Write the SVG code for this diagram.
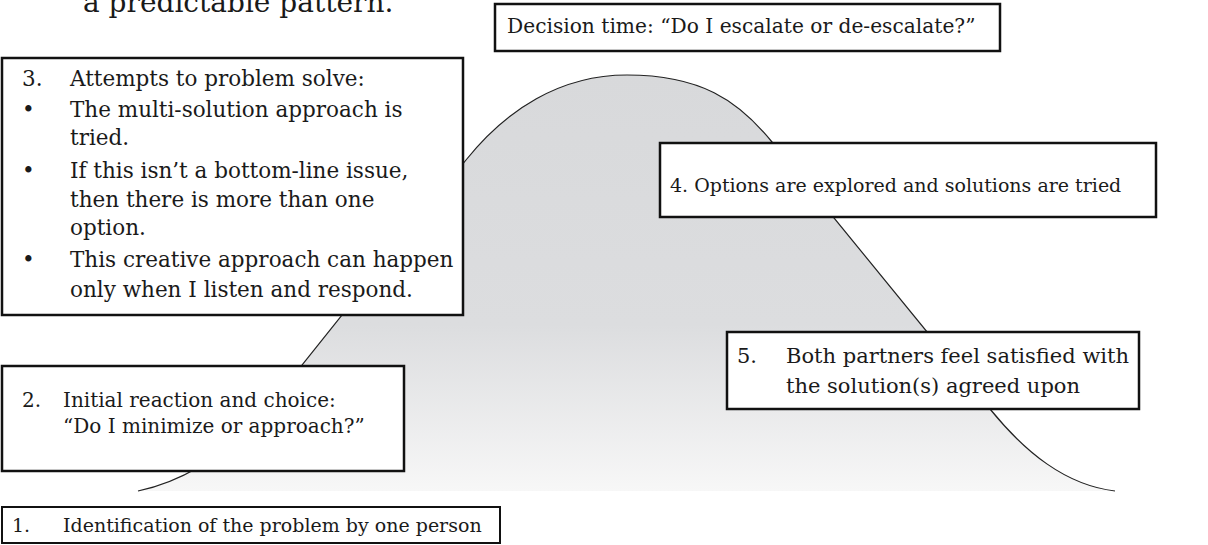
<svg xmlns="http://www.w3.org/2000/svg" width="1208" height="545" viewBox="0 0 1208 545">
<style>
.t{font-family:"DejaVu Serif","Liberation Serif",serif;font-size:20px;fill:#1a1a1a}
.s3{font-size:21.5px}
.s5{font-size:21px}
.s4{font-size:19px}
.s1{font-size:19px}
.big{font-family:"DejaVu Serif","Liberation Serif",serif;font-size:28px;fill:#1a1a1a}
.box{fill:#fff;stroke:#111;stroke-width:2.5}
.curve{fill:none;stroke:#222;stroke-width:1.2}
</style>
<defs>
<linearGradient id="g" x1="0" y1="75" x2="0" y2="491" gradientUnits="userSpaceOnUse">
<stop offset="0" stop-color="#d8d9db"/>
<stop offset="0.6" stop-color="#dcdddf"/>
<stop offset="1" stop-color="#f7f7f7"/>
</linearGradient>
</defs>
<rect width="1208" height="545" fill="#fff"/>
<text class="big" x="83" y="12">a predictable pattern.</text>
<g id="curve">
<path d="M138,491 C185,481 225,455 262,415 L466,160 C506,110 560,75 627,75 C700,75 738,100 772,142 L990,409 C1025,452 1065,485 1115,491 Z" fill="url(#g)" stroke="none"/>
<path class="curve" d="M138,491 C185,481 225,455 262,415 L466,160 C506,110 560,75 627,75 C700,75 738,100 772,142 L990,409 C1025,452 1065,485 1115,491"/>
</g>
<g id="connectors"></g>
<g id="decision">
<rect class="box" x="495" y="4" width="505" height="47"/>
<text class="t" x="507" y="33" style="font-size:20.2px">Decision time: “Do I escalate or de-escalate?”</text>
</g>
<g id="step3">
<rect class="box" x="2" y="58" width="461" height="257"/>
<text class="t s3" x="22" y="86">3.</text>
<text class="t s3" x="70" y="86">Attempts to problem solve:</text>
<text class="t s3" x="22" y="117">•</text>
<text class="t s3" x="70" y="117">The multi-solution approach is</text>
<text class="t s3" x="70" y="145">tried.</text>
<text class="t s3" x="22" y="178">•</text>
<text class="t s3" x="70" y="178">If this isn’t a bottom-line issue,</text>
<text class="t s3" x="70" y="207">then there is more than one</text>
<text class="t s3" x="70" y="235">option.</text>
<text class="t s3" x="22" y="267">•</text>
<text class="t s3" x="70" y="267">This creative approach can happen</text>
<text class="t s3" x="70" y="297">only when I listen and respond.</text>
</g>
<g id="step4">
<rect class="box" x="660" y="143" width="496" height="74"/>
<text class="t s4" x="670" y="192">4. Options are explored and solutions are tried</text>
</g>
<g id="step5">
<rect class="box" x="727" y="332" width="412" height="77"/>
<text class="t s5" x="737" y="363">5.</text>
<text class="t s5" x="786" y="363">Both partners feel satisfied with</text>
<text class="t s5" x="786" y="393">the solution(s) agreed upon</text>
</g>
<g id="step2">
<rect class="box" x="2" y="366" width="402" height="105"/>
<text class="t" x="22" y="407">2.</text>
<text class="t" x="63" y="407">Initial reaction and choice:</text>
<text class="t" x="63" y="433">“Do I minimize or approach?”</text>
</g>
<g id="step1">
<rect class="box" x="2" y="507" width="498" height="36" style="stroke-width:2"/>
<text class="t s1" x="12" y="532">1.</text>
<text class="t s1" x="63" y="532">Identification of the problem by one person</text>
</g>
</svg>
